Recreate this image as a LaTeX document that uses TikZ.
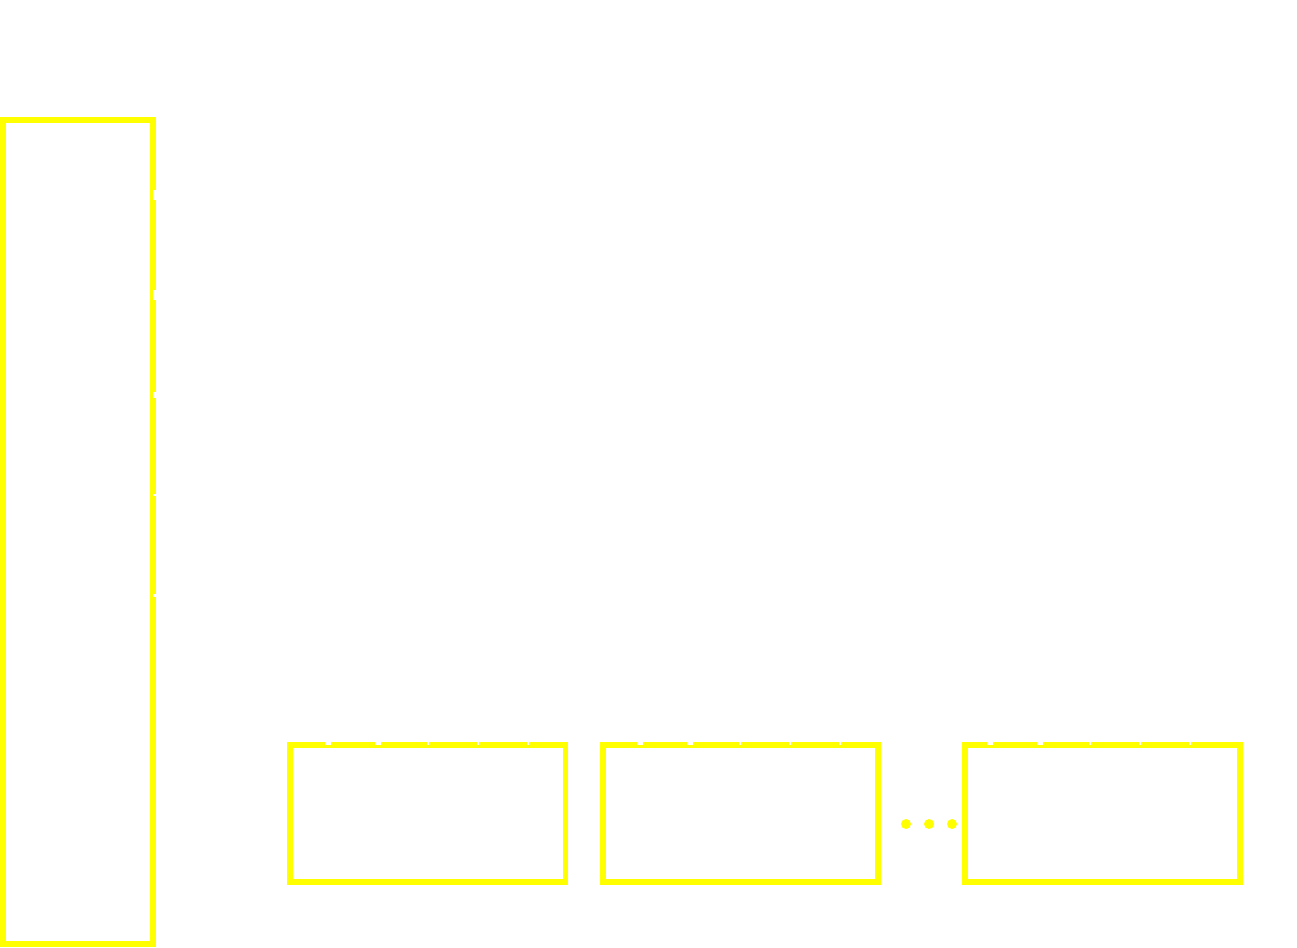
\documentclass[tikz,border=0pt]{standalone}
\usepackage[rgb]{xcolor}
\usepackage{tikz}
\usetikzlibrary{calc}

\begin{document}
\begin{tikzpicture}[inner sep=0, outer sep=0,
    vak/.style={draw=yellow, line width=3.4pt, rectangle},
    lijn/.style={draw=white}]
    % kader
    \useasboundingbox (0,0) rectangle (25.94,-18.96);
    % geheugen
    \node[vak, minimum width=3cm, minimum height=16.48cm] (mem) at (1.56,-10.64) {};
    % blokken
    \node[vak, minimum width=5.51cm, minimum height=2.74cm] (blk1) at (8.555,-16.27) {};
    \node[vak, minimum width=5.51cm, minimum height=2.74cm] (blk2) at (14.81,-16.27) {};
    \node[vak, minimum width=5.51cm, minimum height=2.74cm] (blkn) at (22.05,-16.27) {};
    % uitgangen geheugen
    \foreach \i/\w in {1/6.2pt,2/6.2pt,3/3.4pt,4/1.7pt,5/1.7pt} {
        \coordinate (m\i) at ($(mem.north east)+(0,-1.5-2*\i+2)$);
        \coordinate (u\i) at ($(m\i)+(4,0)$);
        \draw[lijn, line width=\w] (u\i) -- (m\i);
    }
    % ingangen blokken
    \foreach \b/\d in {blk1/0.76,blk2/0.74,blkn/0.5}
        \foreach \i/\w in {1/3.4pt,2/3.4pt,3/1.1pt,4/1.1pt,5/1.1pt} {
            \coordinate (\b-\i) at ($(\b.north west)+(\d+\i-1,0)$);
            \coordinate (\b-in\i) at ($(\b-\i)+(0,1)$);
            \draw[lijn, line width=\w] (\b-in\i) -- (\b-\i);
        }
    % puntjes
    \foreach \x in {18.12,18.58,19.04}
        \fill[yellow] (\x,-16.48) circle (0.1);
\end{tikzpicture}
\end{document}
